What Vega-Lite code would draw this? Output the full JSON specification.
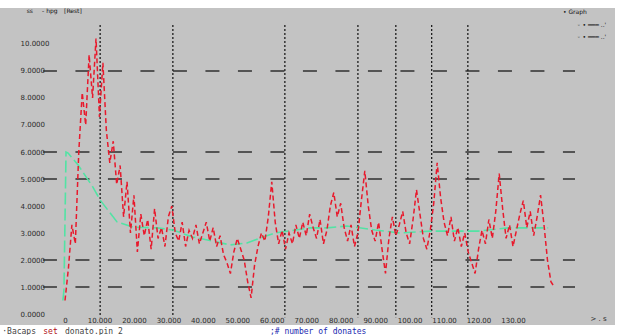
{
  "$schema": "https://vega.github.io/schema/vega-lite/v6.json",
  "width": 615,
  "height": 317,
  "autosize": {"type": "none"},
  "padding": {"left": 0, "top": 8, "right": 6, "bottom": 10},
  "background": "white",
  "config": {
    "view": {"fill": "#c3c3c3", "stroke": null},
    "axis": {"grid": false, "domain": false, "ticks": false, "tickSize": 0, "labelFont": "DejaVu Sans", "labelFontSize": 7, "labelColor": "#2a2a2a", "title": null}
  },
  "datasets": {
    "red": [
      {"x":0,"v":0.5},{"x":1,"v":1.7},{"x":2,"v":3.3},{"x":3,"v":2.6},{"x":4,"v":6.0},{"x":5,"v":8.2},{"x":6,"v":7.0},{"x":7,"v":9.6},{"x":8,"v":8.0},{"x":9,"v":10.2},
      {"x":10,"v":7.3},{"x":11,"v":9.3},{"x":12,"v":6.8},{"x":13,"v":5.6},{"x":14,"v":6.4},{"x":15,"v":4.8},{"x":16,"v":5.5},{"x":17,"v":3.6},{"x":18,"v":4.9},{"x":19,"v":3.0},
      {"x":20,"v":4.4},{"x":21,"v":2.3},{"x":22,"v":3.7},{"x":23,"v":2.9},{"x":24,"v":3.5},{"x":25,"v":2.4},{"x":26,"v":3.9},{"x":27,"v":2.8},{"x":28,"v":3.2},{"x":29,"v":2.5},
      {"x":30,"v":3.6},{"x":31,"v":4.0},{"x":32,"v":3.0},{"x":33,"v":2.7},{"x":34,"v":3.4},{"x":35,"v":2.5},{"x":36,"v":3.1},{"x":37,"v":2.8},{"x":38,"v":3.3},{"x":39,"v":2.6},
      {"x":40,"v":3.0},{"x":41,"v":3.4},{"x":42,"v":2.7},{"x":43,"v":3.2},{"x":44,"v":2.5},{"x":45,"v":2.9},{"x":46,"v":2.2},{"x":47,"v":1.9},{"x":48,"v":1.5},{"x":49,"v":2.3},
      {"x":50,"v":2.8},{"x":51,"v":2.4},{"x":52,"v":2.0},{"x":53,"v":1.2},{"x":54,"v":0.6},{"x":55,"v":1.8},{"x":56,"v":2.5},{"x":57,"v":3.0},{"x":58,"v":2.7},{"x":59,"v":3.6},
      {"x":60,"v":4.9},{"x":61,"v":3.4},{"x":62,"v":2.6},{"x":63,"v":3.1},{"x":64,"v":2.4},{"x":65,"v":3.0},{"x":66,"v":2.6},{"x":67,"v":3.3},{"x":68,"v":2.8},{"x":69,"v":3.4},
      {"x":70,"v":2.9},{"x":71,"v":3.7},{"x":72,"v":3.2},{"x":73,"v":2.8},{"x":74,"v":3.5},{"x":75,"v":2.6},{"x":76,"v":3.1},{"x":77,"v":4.0},{"x":78,"v":4.5},{"x":79,"v":3.6},
      {"x":80,"v":4.1},{"x":81,"v":3.2},{"x":82,"v":2.7},{"x":83,"v":3.3},{"x":84,"v":2.5},{"x":85,"v":3.0},{"x":86,"v":4.2},{"x":87,"v":5.3},{"x":88,"v":4.0},{"x":89,"v":3.1},
      {"x":90,"v":2.7},{"x":91,"v":3.4},{"x":92,"v":2.4},{"x":93,"v":1.5},{"x":94,"v":2.8},{"x":95,"v":3.6},{"x":96,"v":2.9},{"x":97,"v":3.3},{"x":98,"v":3.8},{"x":99,"v":3.0},
      {"x":100,"v":2.6},{"x":101,"v":3.5},{"x":102,"v":4.6},{"x":103,"v":3.7},{"x":104,"v":2.8},{"x":105,"v":2.4},{"x":106,"v":3.1},{"x":107,"v":4.1},{"x":108,"v":5.6},{"x":109,"v":4.3},
      {"x":110,"v":3.4},{"x":111,"v":2.9},{"x":112,"v":3.6},{"x":113,"v":2.7},{"x":114,"v":3.2},{"x":115,"v":2.5},{"x":116,"v":3.0},{"x":117,"v":2.3},{"x":118,"v":1.9},{"x":119,"v":1.5},
      {"x":120,"v":2.4},{"x":121,"v":3.1},{"x":122,"v":2.6},{"x":123,"v":3.5},{"x":124,"v":2.8},{"x":125,"v":3.8},{"x":126,"v":5.2},{"x":127,"v":3.9},{"x":128,"v":2.8},{"x":129,"v":3.3},
      {"x":130,"v":2.5},{"x":131,"v":3.1},{"x":132,"v":3.7},{"x":133,"v":4.2},{"x":134,"v":3.2},{"x":135,"v":3.8},{"x":136,"v":2.9},{"x":137,"v":3.6},{"x":138,"v":4.4},{"x":139,"v":3.3},
      {"x":140,"v":2.0},{"x":141,"v":1.2},{"x":142,"v":1.0}
    ],
    "green": [
      {"x":-0.6,"v":0.5},{"x":-0.3,"v":0.9},{"x":0.3,"v":6.0},{"x":0.9,"v":5.96},{"x":3.8,"v":5.52},{"x":8.1,"v":4.7},{"x":10.2,"v":4.22},{"x":15.1,"v":3.41},{"x":19.7,"v":3.22},{"x":26.7,"v":3.19},
      {"x":31.3,"v":3.11},{"x":37.1,"v":2.85},{"x":44.1,"v":2.67},{"x":47.9,"v":2.56},{"x":52.8,"v":2.63},{"x":57.5,"v":2.85},{"x":60.9,"v":3.0},{"x":71.1,"v":3.19},{"x":76.0,"v":3.19},{"x":81.8,"v":3.26},
      {"x":90.0,"v":3.11},{"x":97.2,"v":3.0},{"x":105.9,"v":3.07},{"x":119.8,"v":3.07},{"x":128.6,"v":3.19},{"x":140.2,"v":3.19}
    ],
    "vgrid": [
      {"x":10.2,"v":10.7,"v2":-0.12},{"x":31.3,"v":10.7,"v2":-0.12},{"x":63.8,"v":10.7,"v2":-0.12},{"x":85.0,"v":10.7,"v2":-0.12},
      {"x":96.0,"v":10.7,"v2":-0.12},{"x":106.4,"v":10.7,"v2":-0.12},{"x":116.9,"v":10.7,"v2":-0.12}
    ],
    "hgrid": [
      {"v":9,"x":-6.4,"x2":148},{"v":6,"x":-6.4,"x2":148},{"v":5,"x":-6.4,"x2":148},{"v":2,"x":-6.4,"x2":148},{"v":1,"x":-6.4,"x2":148}
    ],
    "buttons": [{"x":-10.2,"v":11.22,"t":"ss"},{"x":-4.4,"v":11.22,"t":"- hpg"},{"x":2.3,"v":11.22,"t":"[Rest]"}],
    "legend": [{"x":144.5,"v":11.19,"t":"• Graph"},{"x":148.6,"v":10.7,"t":"◦ • ━━━ ..'"},{"x":148.6,"v":10.26,"t":"◦ • ━━━ ..'"}],
    "xunit": [{"x":152.5,"v":-0.2,"t":"> . s"}],
    "cmd": [{"x":-18.2,"v":-0.66,"t":"·Bacaps","c":"k"},{"x":-6.3,"v":-0.66,"t":"set","c":"r"},{"x":0.0,"v":-0.66,"t":"donato.pin 2","c":"k"},{"x":59.5,"v":-0.66,"t":";# number of donates","c":"b"}]
  },
  "encoding": {
    "x": {"field": "x", "type": "quantitative", "scale": {"domain": [-18.86, 159.6], "nice": false, "zero": false},
          "axis": {"orient": "bottom", "offset": -5, "values": [0,10,20,30,40,50,60,70,80,90,100,110,120,130], "format": ".5r", "labelPadding": 0, "labelBaseline": "middle", "title": null}},
    "y": {"field": "v", "type": "quantitative", "scale": {"domain": [-0.407, 11.333], "nice": false, "zero": false},
          "axis": {"orient": "left", "offset": -20, "values": [0,1,2,3,4,5,6,7,8,9,10], "format": ".4f", "labelAlign": "left", "labelPadding": 0, "title": null}}
  },
  "layer": [
    {
      "data": {"name": "hgrid"},
      "mark": {"type": "rule", "color": "#303030", "strokeWidth": 1.5, "strokeDash": [14, 18.5]},
      "encoding": {"x2": {"field": "x2"}}
    },
    {
      "data": {"name": "vgrid"},
      "mark": {"type": "rule", "color": "#1e1e1e", "strokeWidth": 1.3, "strokeDash": [2, 2]},
      "encoding": {"y2": {"field": "v2"}}
    },
    {
      "data": {"name": "green"},
      "mark": {"type": "line", "color": "#52e3a4", "strokeWidth": 1.6, "strokeDash": [12, 4]},
      "encoding": {}
    },
    {
      "data": {"name": "red"},
      "mark": {"type": "line", "color": "#e8192c", "strokeWidth": 1.5, "strokeDash": [5, 3]},
      "encoding": {}
    },
    {
      "data": {"name": "buttons"},
      "mark": {"type": "text", "font": "DejaVu Sans", "fontSize": 6, "color": "#111", "align": "center", "baseline": "middle"},
      "encoding": {"text": {"field": "t"}}
    },
    {
      "data": {"name": "legend"},
      "mark": {"type": "text", "font": "DejaVu Sans", "fontSize": 6, "color": "#111", "align": "left", "baseline": "middle"},
      "encoding": {"text": {"field": "t"}}
    },
    {
      "data": {"name": "xunit"},
      "mark": {"type": "text", "font": "DejaVu Sans", "fontSize": 7, "color": "#2a2a2a", "align": "left", "baseline": "middle"},
      "encoding": {"text": {"field": "t"}}
    },
    {
      "data": {"name": "cmd"},
      "mark": {"type": "text", "font": "DejaVu Sans Mono", "fontSize": 8, "align": "left", "baseline": "middle"},
      "encoding": {
        "text": {"field": "t"},
        "color": {"field": "c", "type": "nominal", "scale": {"domain": ["k","r","b"], "range": ["#444444","#b01020","#1a2ab0"]}, "legend": null}
      }
    }
  ]
}
